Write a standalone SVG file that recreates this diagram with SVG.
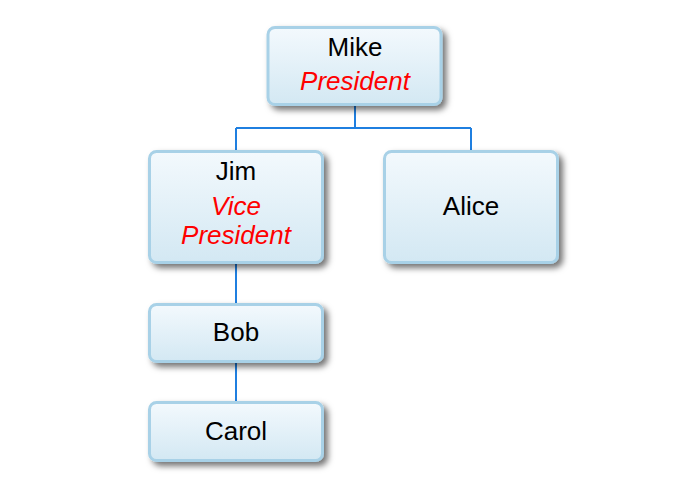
<svg xmlns="http://www.w3.org/2000/svg" width="700" height="500" viewBox="0 0 700 500">
  <defs>
    <linearGradient id="boxFill" x1="0" y1="0" x2="0" y2="1">
      <stop offset="0" stop-color="#f3f9fd"/>
      <stop offset="1" stop-color="#d3e8f3"/>
    </linearGradient>
    <filter id="shadow" x="-20%" y="-20%" width="140%" height="150%">
      <feDropShadow dx="4" dy="4" stdDeviation="3" flood-color="#000" flood-opacity="0.55"/>
    </filter>
    <style>
      .box { fill: url(#boxFill); stroke: #a8d1e7; stroke-width: 3; filter: url(#shadow); }
      .name { font-family: "Liberation Sans", Arial, sans-serif; font-size: 26px; fill: #000; text-anchor: middle; }
      .role { font-family: "Liberation Sans", Arial, sans-serif; font-size: 26px; fill: #ff0000; font-style: italic; text-anchor: middle; }
      .conn { stroke: #1f7fe0; stroke-width: 2; fill: none; }
    </style>
  </defs>
  <rect width="700" height="500" fill="#ffffff"/>
  <g id="connectors">
    <path class="conn" d="M355,105 V128"/>
    <path class="conn" d="M236,128 H471"/>
    <path class="conn" d="M236,128 V151"/>
    <path class="conn" d="M471,128 V151"/>
    <path class="conn" d="M236,263 V304"/>
    <path class="conn" d="M236,362 V402"/>
  </g>
  <g id="mike">
    <rect class="box" x="268" y="27.5" width="173" height="77" rx="7"/>
    <text class="name" x="355" y="56">Mike</text>
    <text class="role" x="355" y="90">President</text>
  </g>
  <g id="jim">
    <rect class="box" x="149.5" y="151.5" width="173" height="111" rx="7"/>
    <text class="name" x="236" y="180">Jim</text>
    <text class="role" x="236" y="215">Vice</text>
    <text class="role" x="236" y="244">President</text>
  </g>
  <g id="alice">
    <rect class="box" x="384.5" y="151.5" width="173" height="111" rx="7"/>
    <text class="name" x="471" y="215">Alice</text>
  </g>
  <g id="bob">
    <rect class="box" x="149.5" y="304.5" width="173" height="57" rx="7"/>
    <text class="name" x="236" y="341">Bob</text>
  </g>
  <g id="carol">
    <rect class="box" x="149.5" y="402.5" width="173" height="58" rx="7"/>
    <text class="name" x="236" y="440">Carol</text>
  </g>
</svg>
